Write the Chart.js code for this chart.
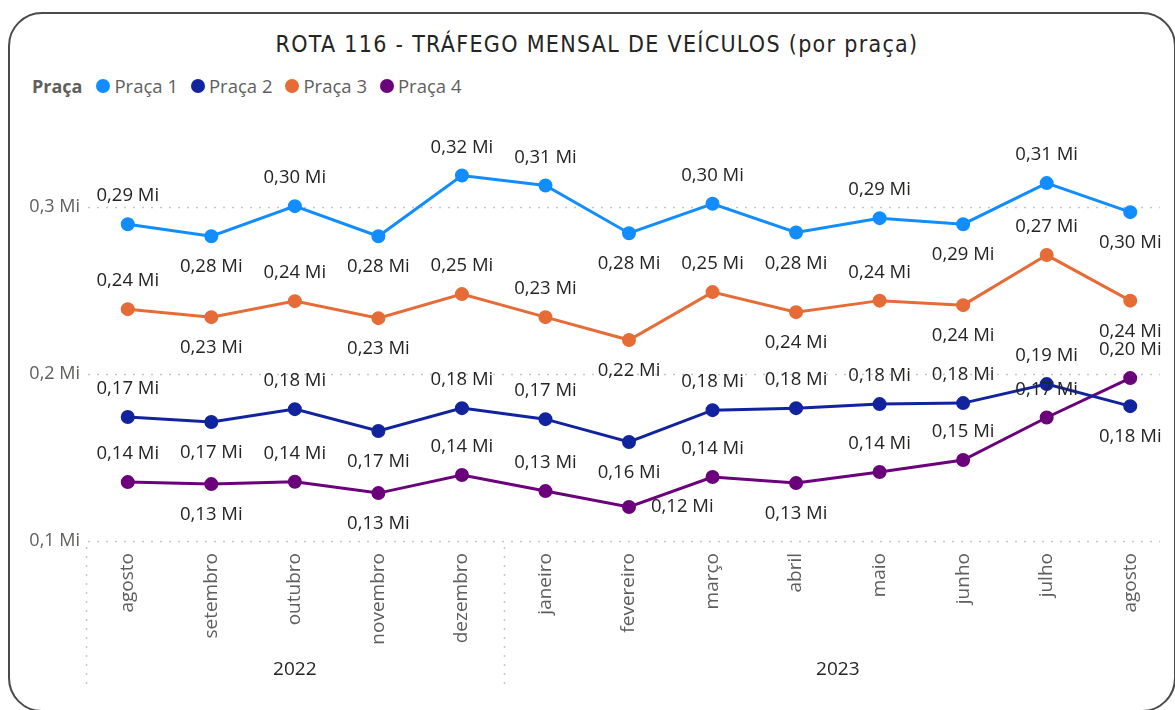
<!DOCTYPE html>
<html lang="pt-BR">
<head>
<meta charset="utf-8">
<title>Rota 116 - Tráfego mensal</title>
<script src="https://cdn.jsdelivr.net/npm/chart.js@4"></script>
<style>
  html, body { margin: 0; padding: 0; background: #fff; overflow: hidden; }
  body { width: 1175px; height: 710px; position: relative; font-family: 'Segoe UI', 'Open Sans', sans-serif; }
  .card {
    position: absolute; left: 8px; top: 12px; width: 1168px; height: 700px;
    box-sizing: border-box; border: 2px solid #4a4a4a; border-radius: 34px;
  }
  .titulo {
    position: absolute; left: 19px; width: 1156px; top: 29px; text-align: center;
    font-family: 'DejaVu Sans Condensed', 'Liberation Sans Narrow', sans-serif;
    font-size: 23px; color: #252423; line-height: 30px; letter-spacing: 1.3px;
  }
  .legenda {
    position: absolute; left: 32px; top: 73px; display: flex; align-items: center;
    font-size: 18.5px; color: #605E5C; line-height: 26px;
  }
  .legenda b { font-weight: 700; margin-right: 14px; font-size: 18px; }
  .legenda span.item { display: flex; align-items: center; margin-right: 13px; }
  .legenda i { display: inline-block; width: 14px; height: 14px; border-radius: 50%; margin-right: 4px; }
  canvas { position: absolute; left: 0; top: 0; }
</style>
</head>
<body>
<div class="card"></div>
<div class="titulo">ROTA 116 - TRÁFEGO MENSAL DE VEÍCULOS (por praça)</div>
<div class="legenda" id="legenda"><b>Praça</b></div>
<canvas id="grafico" width="1175" height="710"></canvas>
<script>
// meses (ago/2022 a ago/2023)
const meses = ["agosto", "setembro", "outubro", "novembro", "dezembro", "janeiro",
  "fevereiro", "março", "abril", "maio", "junho", "julho", "agosto"];
const anos = ["2022", "2023"];
const mesesPorAno = [5, 8];

// tráfego mensal em milhões de veículos
const praca1 = [0.2898, 0.2826, 0.3006, 0.2826, 0.3190, 0.3130, 0.2844, 0.3020, 0.2848, 0.2934, 0.2898, 0.3144, 0.2970];
const praca2 = [0.1743, 0.1713, 0.1790, 0.1659, 0.1796, 0.1730, 0.1593, 0.1784, 0.1796, 0.1820, 0.1826, 0.1940, 0.1808];
const praca3 = [0.2389, 0.2341, 0.2437, 0.2335, 0.2479, 0.2341, 0.2204, 0.2491, 0.2371, 0.2440, 0.2413, 0.2713, 0.2440];
const praca4 = [0.1353, 0.1341, 0.1355, 0.1287, 0.1395, 0.1299, 0.1204, 0.1383, 0.1347, 0.1413, 0.1485, 0.1740, 0.1976];

const nomes = ["Praça 1", "Praça 2", "Praça 3", "Praça 4"];
const cores = ["#118DFF", "#12239E", "#E66C37", "#6B007B"];
const series = [praca1, praca2, praca3, praca4];

const eixoMin = 0.1;
const eixoMax = 0.36;

const fonteTexto = "'Segoe UI', 'Open Sans', sans-serif";

function formatarMi(v, casas) {
  return v.toFixed(casas).replace(".", ",") + " Mi";
}

// legenda em HTML
const legenda = document.getElementById("legenda");
nomes.forEach((nome, i) => {
  const item = document.createElement("span");
  item.className = "item";
  item.innerHTML = '<i style="background:' + cores[i] + '"></i>' + nome;
  legenda.appendChild(item);
});

// linhas de grade pontilhadas
const gradePontilhada = {
  id: "gradePontilhada",
  beforeDatasetsDraw(chart) {
    const { ctx, chartArea, scales } = chart;
    ctx.save();
    ctx.strokeStyle = "#C8C6C4";
    ctx.lineWidth = 1.5;
    ctx.setLineDash([2, 7]);
    scales.y.ticks.forEach((t) => {
      const y = Math.round(scales.y.getPixelForValue(t.value)) + 0.5;
      ctx.beginPath();
      ctx.moveTo(chartArea.left + 2, y);
      ctx.lineTo(chartArea.right - 12, y);
      ctx.stroke();
    });
    ctx.restore();
  },
};

// rótulos de ano e separadores abaixo dos meses
const eixoAnos = {
  id: "eixoAnos",
  afterDraw(chart) {
    const { ctx, chartArea, scales } = chart;
    const x = scales.x;
    const passo = x.getPixelForValue(1) - x.getPixelForValue(0);
    ctx.save();
    ctx.strokeStyle = "#C8C6C4";
    ctx.lineWidth = 1.5;
    ctx.setLineDash([2, 7]);
    ctx.fillStyle = "#252423";
    ctx.font = "19px " + fonteTexto;
    ctx.textAlign = "center";
    ctx.textBaseline = "middle";
    let inicio = 0;
    anos.forEach((ano, i) => {
      const fim = inicio + mesesPorAno[i] - 1;
      const x0 = x.getPixelForValue(inicio) - passo / 2;
      const x1 = x.getPixelForValue(fim) + passo / 2;
      const xl = Math.round(x0) + 0.5;
      ctx.beginPath();
      ctx.moveTo(xl, chartArea.bottom + 6);
      ctx.lineTo(xl, chartArea.bottom + 150);
      ctx.stroke();
      ctx.fillText(ano, (x0 + x1) / 2, chartArea.bottom + 129);
      inicio = fim + 1;
    });
    ctx.restore();
  },
};

// rótulos de valor: acima dos picos, abaixo dos vales
const rotulosValor = {
  id: "rotulosValor",
  afterDatasetsDraw(chart) {
    const { ctx, chartArea } = chart;
    ctx.save();
    ctx.font = "18.5px " + fonteTexto;
    ctx.fillStyle = "#252423";
    ctx.textBaseline = "middle";
    chart.data.datasets.forEach((ds, di) => {
      const meta = chart.getDatasetMeta(di);
      const d = ds.data;
      meta.data.forEach((pt, i) => {
        const v = d[i];
        let abaixo;
        if (i === 0) abaixo = v < d[1];
        else if (i === d.length - 1) abaixo = v < d[i - 1];
        else abaixo = v < d[i - 1] && v < d[i + 1];
        const texto = formatarMi(v, 2);
        if (abaixo && pt.y + 39 > chartArea.bottom) {
          ctx.textAlign = "left";
          ctx.fillText(texto, pt.x + 22, pt.y);
        } else {
          ctx.textAlign = "center";
          ctx.fillText(texto, pt.x, abaixo ? pt.y + 31 : pt.y - 28);
        }
      });
    });
    ctx.restore();
  },
};

const grafico = new Chart(document.getElementById("grafico"), {
  type: "line",
  data: {
    labels: meses,
    datasets: series.map((valores, i) => ({
      label: nomes[i],
      data: valores,
      borderColor: cores[i],
      backgroundColor: cores[i],
      pointBackgroundColor: cores[i],
      pointBorderColor: cores[i],
      borderWidth: 3,
      pointRadius: 5.5,
      tension: 0,
    })),
  },
  options: {
    responsive: false,
    animation: false,
    layout: { autoPadding: false, padding: { top: 107, right: 3, left: 0, bottom: 0 } },
    plugins: {
      legend: { display: false },
      title: { display: false },
      tooltip: { enabled: false },
    },
    scales: {
      x: {
        offset: true,
        grid: { display: false, drawTicks: false },
        border: { display: false },
        ticks: {
          maxRotation: 90,
          minRotation: 90,
          padding: 12,
          color: "#605E5C",
          font: { family: fonteTexto, size: 19 },
        },
        afterFit(scale) {
          scale.height = 169;
          scale.paddingLeft = 0;
          scale.paddingRight = 0;
        },
      },
      y: {
        min: eixoMin,
        max: eixoMax,
        grid: { display: false, drawTicks: false },
        border: { display: false },
        ticks: {
          stepSize: 0.1,
          padding: 6,
          color: "#605E5C",
          font: { family: fonteTexto, size: 18 },
          callback: (v) => formatarMi(v, 1),
        },
        afterBuildTicks(scale) {
          scale.ticks = scale.ticks.filter((t) => Math.abs(t.value * 10 - Math.round(t.value * 10)) < 1e-6);
        },
        afterFit(scale) {
          scale.width = 86;
          scale.paddingTop = 0;
          scale.paddingBottom = 0;
        },
      },
    },
  },
  plugins: [gradePontilhada, rotulosValor, eixoAnos],
});
</script>
</body>
</html>
